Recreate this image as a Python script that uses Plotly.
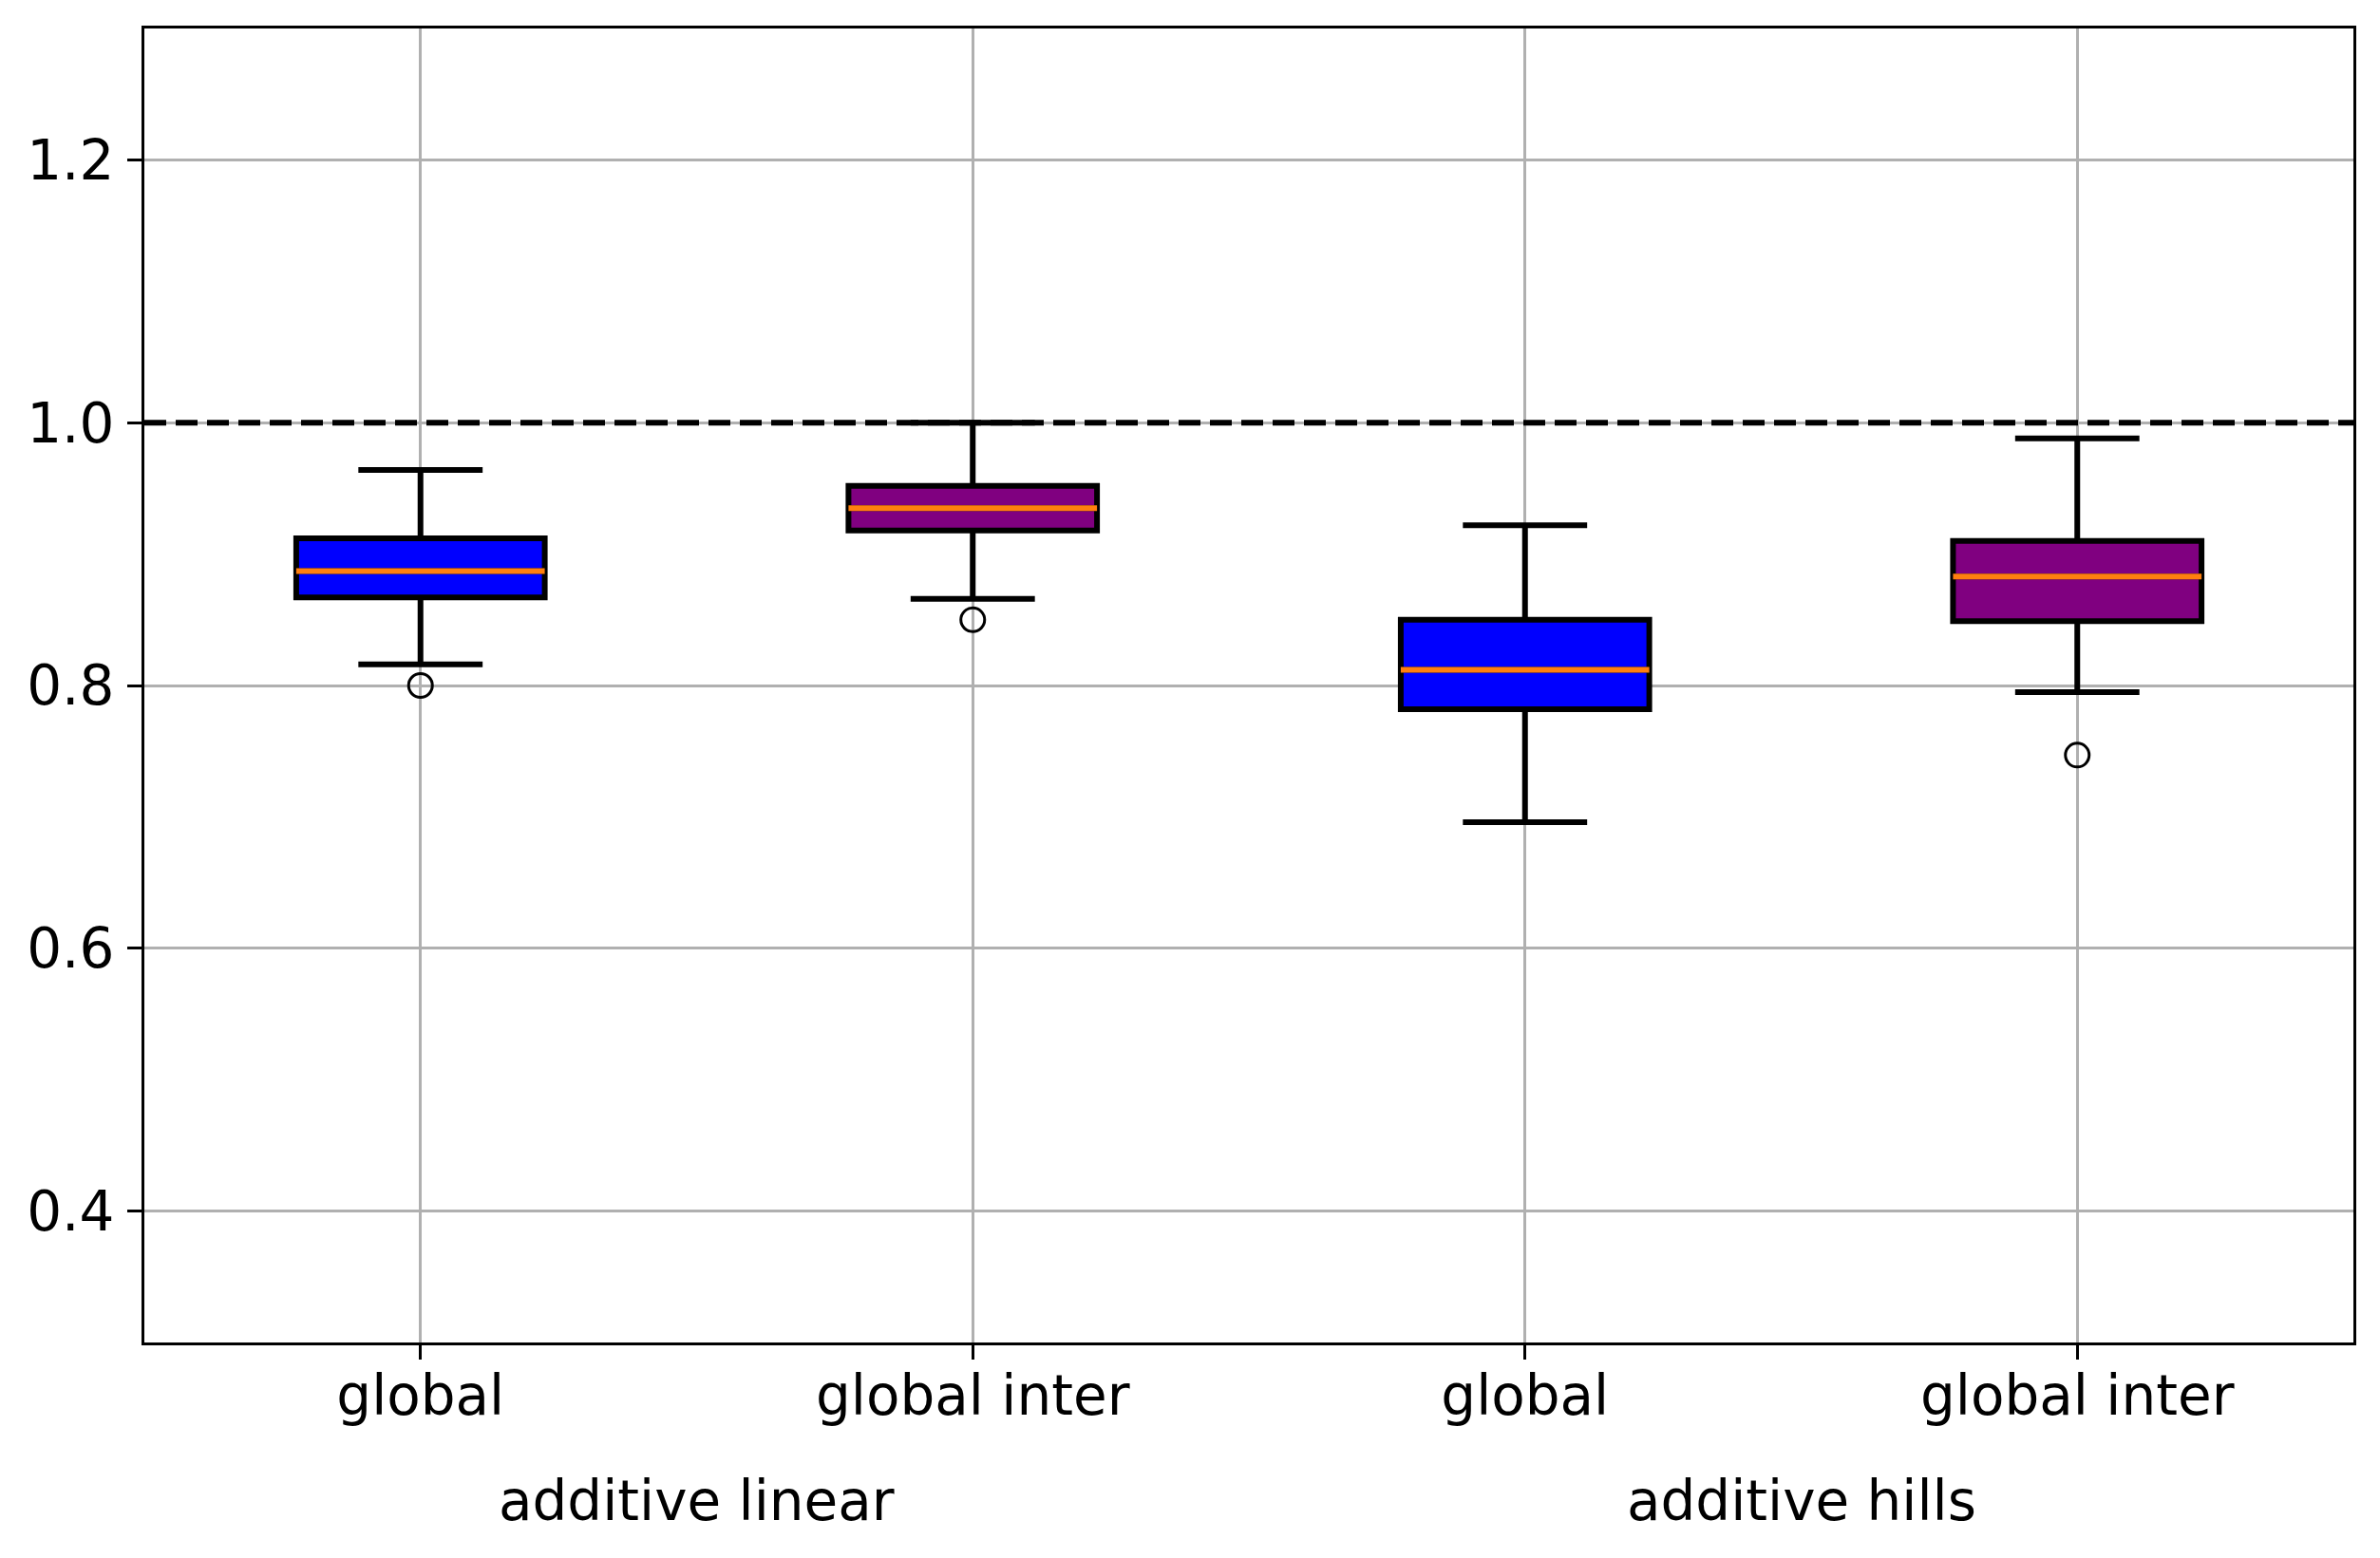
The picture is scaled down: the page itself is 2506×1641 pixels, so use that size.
import plotly.graph_objects as go

# ---- data ----
positions = [1, 2, 3, 4]
tick_labels = ["global", "global inter", "global", "global inter"]
group_labels = ["additive linear", "additive hills"]
box_colors = ["#0000ff", "#800080", "#0000ff", "#800080"]

lower_whisker = [0.816, 0.866, 0.696, 0.795]
q1 = [0.867, 0.918, 0.782, 0.849]
medians = [0.887, 0.935, 0.812, 0.883]
q3 = [0.912, 0.952, 0.850, 0.910]
upper_whisker = [0.964, 1.000, 0.922, 0.988]

outlier_x = [1, 2, 4]
outlier_y = [0.800, 0.850, 0.747]

reference_level = 1.0
y_ticks = [0.4, 0.6, 0.8, 1.0, 1.2]

BOX_W = 0.45
FONT = "DejaVu Sans"

fig = go.Figure()

for i, p in enumerate(positions):
    fig.add_trace(go.Box(
        x=[p], q1=[q1[i]], median=[medians[i]], q3=[q3[i]],
        lowerfence=[lower_whisker[i]], upperfence=[upper_whisker[i]],
        width=BOX_W, whiskerwidth=0.5,
        fillcolor=box_colors[i],
        line=dict(color="black", width=6),
        boxpoints=False, showlegend=False, hoverinfo="skip",
    ))
    fig.add_trace(go.Scatter(
        x=[p - BOX_W / 2, p + BOX_W / 2], y=[medians[i], medians[i]],
        mode="lines", line=dict(color="#ff7f0e", width=6),
        showlegend=False, hoverinfo="skip",
    ))

fig.add_trace(go.Scatter(
    x=outlier_x, y=outlier_y, mode="markers",
    marker=dict(symbol="circle-open", size=25, color="black", line=dict(width=3, color="black")),
    showlegend=False, hoverinfo="skip",
))

fig.add_shape(type="line", xref="paper", x0=0, x1=1, yref="y",
              y0=reference_level, y1=reference_level,
              line=dict(color="black", width=6, dash="23px,10px"), layer="above")

group_centers = [(positions[0] + positions[1]) / 2, (positions[2] + positions[3]) / 2]
for gx, gl in zip(group_centers, group_labels):
    fig.add_annotation(x=gx, xref="x", y=-0.1205, yref="paper", text=gl,
                       showarrow=False, yanchor="middle", xanchor="center",
                       font=dict(family=FONT, size=58, color="black"))

axis_common = dict(
    showline=True, mirror=True, linecolor="black", linewidth=3,
    showgrid=True, gridcolor="#b0b0b0", gridwidth=3, zeroline=False,
    ticks="outside", ticklen=15, tickwidth=3, tickcolor="black",
    tickfont=dict(family=FONT, size=58, color="black"),
)

fig.update_xaxes(range=[0.5, 4.5], tickvals=positions, ticktext=tick_labels,
                 ticklabelstandoff=-12, **axis_common)
fig.update_yaxes(range=[0.3, 1.3], tickvals=y_ticks, tickformat=".1f",
                 ticklabelstandoff=2, **axis_common)

# page body has an 8px default margin; size the figure so the plot area lands
# where the reference's does
fig.update_layout(
    width=2498, height=1625,
    margin=dict(l=144, r=28, t=22, b=219),
    plot_bgcolor="white", paper_bgcolor="white",
    font=dict(family=FONT, size=58, color="black"),
    showlegend=False,
)

fig.write_html("out.html")
